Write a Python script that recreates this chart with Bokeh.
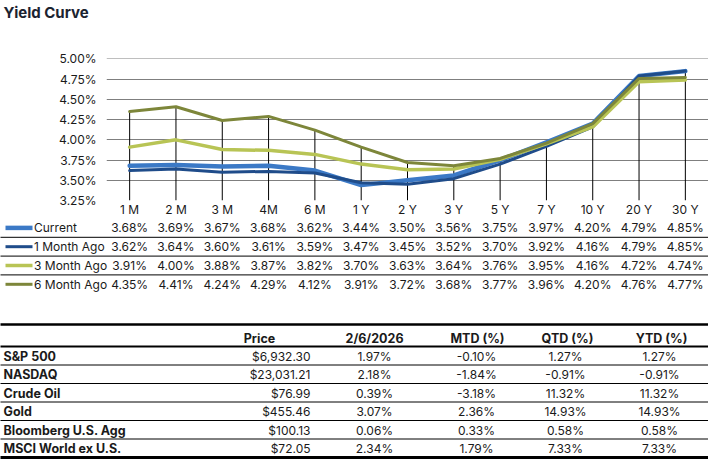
from bokeh.plotting import figure
from bokeh.models import Range1d, FixedTicker, PrintfTickFormatter, LinearScale
from bokeh.core.properties import value
from bokeh.embed import file_html
from bokeh.resources import INLINE

# ---------------- data ----------------
maturities = ["1 M", "2 M", "3 M", "4M", "6 M", "1 Y", "2 Y", "3 Y", "5 Y", "7 Y", "10 Y", "20 Y", "30 Y"]
series_names = ["Current", "1 Month Ago", "3 Month Ago", "6 Month Ago"]
current = [3.68, 3.69, 3.67, 3.68, 3.62, 3.44, 3.50, 3.56, 3.75, 3.97, 4.20, 4.79, 4.85]
month_1 = [3.62, 3.64, 3.60, 3.61, 3.59, 3.47, 3.45, 3.52, 3.70, 3.92, 4.16, 4.79, 4.85]
month_3 = [3.91, 4.00, 3.88, 3.87, 3.82, 3.70, 3.63, 3.64, 3.76, 3.95, 4.16, 4.72, 4.74]
month_6 = [4.35, 4.41, 4.24, 4.29, 4.12, 3.91, 3.72, 3.68, 3.77, 3.96, 4.20, 4.76, 4.77]
y_ticks = [3.25, 3.50, 3.75, 4.00, 4.25, 4.50, 4.75, 5.00]

assets = ["S&P 500", "NASDAQ", "Crude Oil", "Gold", "Bloomberg U.S. Agg", "MSCI World ex U.S."]
price = [6932.30, 23031.21, 76.99, 455.46, 100.13, 72.05]
day_ret = [1.97, 2.18, 0.39, 3.07, 0.06, 2.34]
mtd = [-0.10, -1.84, -3.18, 2.36, 0.33, 1.79]
qtd = [1.27, -0.91, 11.32, 14.93, 0.58, 7.33]
ytd = [1.27, -0.91, 11.32, 14.93, 0.58, 7.33]
table_headers = ["Price", "2/6/2026", "MTD (%)", "QTD (%)", "YTD (%)"]

# ---------------- styles / layout ----------------
series_values = [current, month_1, month_3, month_6]
colors = ["#3b79c6", "#1f4c8a", "#b8c455", "#7d863a"]
widths = [4.5, 3, 3.5, 3]
FONT_NAME = "Inter"
FONT = value(FONT_NAME)
TXT = "#1a1a1a"
FS = "12px"
W, H = 708, 459
LEFT = 106
T, FH = 58, 142
B = H - T - FH

n = len(maturities)
xpos = list(range(n))  # category slots on the x axis

p = figure(width=W, height=H, x_range=Range1d(-0.5, n - 0.5),
           y_range=Range1d(y_ticks[0], y_ticks[-1] + 0.006),
           min_border_left=LEFT, min_border_right=0, min_border_top=T, min_border_bottom=B,
           toolbar_location=None, output_backend="svg")
p.outline_line_color = None
p.xgrid.visible = False
p.ygrid.ticker = FixedTicker(ticks=y_ticks[1:])
p.ygrid.grid_line_color = "#7f7f7f"
p.ygrid.grid_line_width = 1
# pixel-like helper ranges for the table/legend layout around the chart frame
p.extra_x_ranges = {"px": Range1d(LEFT, W)}
p.extra_x_scales = {"px": LinearScale()}
p.extra_y_ranges = {"py": Range1d(T + FH, T)}
p.extra_y_scales = {"py": LinearScale()}

p.yaxis.ticker = FixedTicker(ticks=y_ticks)
p.yaxis.formatter = PrintfTickFormatter(format="%.2f%%")
p.xaxis.ticker = FixedTicker(ticks=xpos)
p.xaxis.major_label_overrides = {i: m for i, m in zip(xpos, maturities)}
for ax in (p.xaxis, p.yaxis):
    ax.axis_line_color = None
    ax.major_tick_line_color = None
    ax.minor_tick_line_color = None
    ax.major_tick_out = 0
    ax.major_tick_in = 0
    ax.major_label_text_font = FONT_NAME
    ax.major_label_text_font_size = FS
    ax.major_label_text_color = TXT
p.yaxis.major_label_standoff = 10
p.xaxis.major_label_standoff = 1

# drop lines and curves
max_vals = [max(v) for v in zip(*series_values)]
p.segment(x0=xpos, y0=[y_ticks[0]] * n, x1=xpos, y1=max_vals,
          line_color="black", line_width=1)
for vals, c, w in zip(series_values, colors, widths):
    p.line(xpos, vals, line_color=c, line_width=w, line_join="round", line_cap="round")

OV = dict(x_range_name="px", y_range_name="py", level="overlay")

# title
p.text(x=[3], y=[12], text=["Yield Curve"], text_font=FONT, text_font_style="bold",
       text_font_size="15px", text_baseline="middle", text_color="#1b2330", **OV)

# legend / data table under the chart
leg_top = 218
leg_row = 18.8
for i, (name, vals, c, w) in enumerate(zip(series_names, series_values, colors, widths)):
    yc = leg_top + (i + 0.5) * leg_row
    p.segment(x0=[5], y0=[yc], x1=[32], y1=[yc], line_color=c, line_width=w, **OV)
    p.text(x=[33.5], y=[yc], text=[name], text_font=FONT, text_font_size=FS,
           text_baseline="middle", text_color=TXT, **OV)
    p.text(x=xpos, y=[yc] * n, text=[f"{v:.2f}%" for v in vals],
           text_font=FONT, text_font_size=FS, text_align="center",
           text_baseline="middle", text_color=TXT, y_range_name="py", level="overlay")
sep_y = [leg_top + i * leg_row for i in range(1, len(series_names))]
p.segment(x0=[0] * len(sep_y), y0=sep_y, x1=[W] * len(sep_y), y1=sep_y,
          line_color="black", line_width=1, **OV)

# market table
top_line = 324
head_line = 346
header_y = 338
row_h = 18.5
header_x = [259, 374, 477, 567, 661]
value_x = [310, 374, 476, 565, 659]
value_align = ["right", "center", "center", "center", "center"]

line_y = [top_line, head_line] + [head_line + i * row_h for i in range(1, len(assets) + 1)]
line_w = [2.5, 2] + [1] * (len(assets) - 1) + [3]
p.segment(x0=[0] * len(line_y), y0=line_y, x1=[W] * len(line_y), y1=line_y,
          line_color="black", line_width=line_w, **OV)

p.text(x=header_x, y=[header_y] * len(table_headers), text=table_headers,
       text_font=FONT, text_font_style="bold", text_font_size="12.5px",
       text_align="center", text_baseline="middle", text_color=TXT, **OV)
row_y = [head_line + (i + 0.5) * row_h + 0.5 for i in range(len(assets))]
p.text(x=[3] * len(assets), y=row_y, text=assets, text_font=FONT, text_font_style="bold",
       text_font_size="12.5px", text_baseline="middle", text_color=TXT, **OV)
cols = [[f"${v:,.2f}" for v in price],
        [f"{v:.2f}%" for v in day_ret],
        [f"{v:.2f}%" for v in mtd],
        [f"{v:.2f}%" for v in qtd],
        [f"{v:.2f}%" for v in ytd]]
for xs, al, txt in zip(value_x, value_align, cols):
    p.text(x=[xs] * len(txt), y=row_y, text=txt, text_font=FONT, text_font_size=FS,
           text_align=al, text_baseline="middle", text_color=TXT, **OV)

open("out.html", "w").write(file_html(p, INLINE))
